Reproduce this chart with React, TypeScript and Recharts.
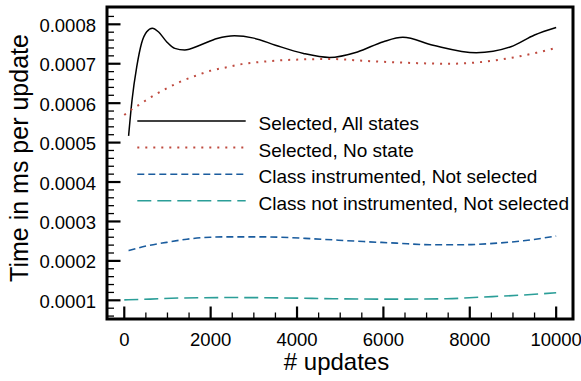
import React from 'react';
import { LineChart, Line, XAxis, YAxis, ReferenceArea, Legend } from 'recharts';

const FONT = '"Liberation Sans", Arial, Helvetica, sans-serif';

// ---- series metadata ----
const seriesNames = [
  'Selected, All states',
  'Selected, No state',
  'Class instrumented, Not selected',
  'Class not instrumented, Not selected',
];
const seriesColors = ['#000000', '#bf4a3f', '#1a5c9e', '#2b9e98'];
const seriesDash = ['', '2 6', '7 4', '14 6'];
const seriesWidth = [1.5, 2, 1.6, 1.6];

// ---- data (x = # updates, y = ms per update) ----
const allStatesX = [100, 180, 290, 400, 520, 650, 790, 980, 1170, 1400, 1750, 2150, 2550, 3000, 3500, 4150, 4750, 5400, 6000, 6450, 7150, 8150, 8950, 9500, 10000];
const allStatesY = [0.000517, 0.000608, 0.000693, 0.000752, 0.000781, 0.00079, 0.000781, 0.000756, 0.000739, 0.000735, 0.000747, 0.000764, 0.000771, 0.000765, 0.000747, 0.000726, 0.000716, 0.00073, 0.000756, 0.000767, 0.000747, 0.000728, 0.000743, 0.000773, 0.000792];

const noStateX = [0, 170, 330, 630, 940, 1290, 1640, 1990, 2370, 2720, 3100, 3680, 4770, 5610, 6390, 7550, 8320, 9010, 9550, 10000];
const noStateY = [0.00057, 0.000584, 0.000595, 0.000616, 0.000635, 0.000654, 0.000669, 0.000682, 0.000691, 0.000699, 0.000704, 0.000709, 0.000712, 0.000707, 0.000703, 0.0007, 0.000705, 0.000716, 0.000728, 0.00074];

const instrX = [100, 520, 980, 1450, 1990, 2520, 2990, 3610, 4380, 5540, 6310, 7080, 7850, 8630, 9240, 10000];
const instrY = [0.000226, 0.000238, 0.000247, 0.000255, 0.00026, 0.000261, 0.000261, 0.00026, 0.000256, 0.000249, 0.000245, 0.000241, 0.000241, 0.000245, 0.000251, 0.000263];

const notInstrX = [0, 600, 1370, 2520, 3680, 4840, 6310, 7470, 8240, 9170, 10000];
const notInstrY = [0.000101, 0.000103, 0.000106, 0.000107, 0.000106, 0.000104, 0.000103, 0.000104, 0.000108, 0.000113, 0.000119];

// ---- axes ----
const xDomain: [number, number] = [-400, 10390];
const yDomain: [number, number] = [0.0000526, 0.0008439];
const xTicks = [0, 500, 1000, 1500, 2000, 2500, 3000, 3500, 4000, 4500, 5000, 5500, 6000, 6500, 7000, 7500, 8000, 8500, 9000, 9500, 10000];
const xMajorTicks = [0, 2000, 4000, 6000, 8000, 10000];
const yTicks = [
  0.00006, 0.00008, 0.0001, 0.00012, 0.00014, 0.00016, 0.00018, 0.0002, 0.00022, 0.00024,
  0.00026, 0.00028, 0.0003, 0.00032, 0.00034, 0.00036, 0.00038, 0.0004, 0.00042, 0.00044,
  0.00046, 0.00048, 0.0005, 0.00052, 0.00054, 0.00056, 0.00058, 0.0006, 0.00062, 0.00064,
  0.00066, 0.00068, 0.0007, 0.00072, 0.00074, 0.00076, 0.00078, 0.0008, 0.00082,
];
const yMajorTicks = [0.0001, 0.0002, 0.0003, 0.0004, 0.0005, 0.0006, 0.0007, 0.0008];
const yTickLabels = ['0.0001', '0.0002', '0.0003', '0.0004', '0.0005', '0.0006', '0.0007', '0.0008'];

const toPoints = (xs: number[], ys: number[]) => xs.map((x, i) => ({ x, y: ys[i] }));
const seriesData = [
  toPoints(allStatesX, allStatesY),
  toPoints(noStateX, noStateY),
  toPoints(instrX, instrY),
  toPoints(notInstrX, notInstrY),
];

const XTick = (props: any) => {
  const { x, y, payload } = props;
  const v = payload.value;
  const major = xMajorTicks.indexOf(v) >= 0;
  return (
    <g>
      <line x1={x} x2={x} y1={y} y2={y - (major ? 12.5 : 6.5)} stroke="#000" strokeWidth={major ? 2.2 : 1.3} />
      {major && (
        <text x={x} y={y + 26.7} textAnchor="middle" fontFamily={FONT} fontSize={18.5} fill="#000">
          {String(v)}
        </text>
      )}
    </g>
  );
};

const YTick = (props: any) => {
  const { x, y, payload } = props;
  const v = payload.value;
  const idx = yMajorTicks.findIndex((m) => Math.abs(m - v) < 1e-9);
  const major = idx >= 0;
  return (
    <g>
      <line x1={x} x2={x + (major ? 13.5 : 7)} y1={y} y2={y} stroke="#000" strokeWidth={major ? 2.2 : 1.3} />
      {major && (
        <text x={x - 11} y={y + 7.5} textAnchor="end" fontFamily={FONT} fontSize={18.5} fill="#000">
          {yTickLabels[idx]}
        </text>
      )}
    </g>
  );
};

const legendRowY = [121, 147.6, 174.2, 200.8];

const LegendBox = () => (
  <svg width={581} height={381} style={{ position: 'absolute', left: 0, top: 0, overflow: 'visible' }}>
    {seriesNames.map((name, i) => (
      <g key={name}>
        <line
          x1={137.3}
          x2={245.7}
          y1={legendRowY[i]}
          y2={legendRowY[i]}
          stroke={seriesColors[i]}
          strokeWidth={seriesWidth[i]}
          strokeDasharray={seriesDash[i] || undefined}
        />
        <text x={258.5} y={legendRowY[i] + 9} fontFamily={FONT} fontSize={19} fill="#000">
          {name}
        </text>
      </g>
    ))}
  </svg>
);

const renderXTitle = (p: any) => {
  const vb = p && p.viewBox ? p.viewBox : { x: 107, y: 319, width: 466, height: 62 };
  return (
    <text x={vb.x + vb.width / 2 - 3.5} y={370} textAnchor="middle" fontFamily={FONT} fontSize={24} fill="#000">
      # updates
    </text>
  );
};

const renderYTitle = (p: any) => {
  const vb = p && p.viewBox ? p.viewBox : { x: 0, y: 7, width: 107, height: 312 };
  const cx = vb.x + 28;
  const cy = vb.y + vb.height / 2 - 5;
  return (
    <text x={cx} y={cy} transform={`rotate(-90 ${cx} ${cy})`} textAnchor="middle" fontFamily={FONT} fontSize={25} fill="#000">
      Time in ms per update
    </text>
  );
};

export default function App() {
  return (
    <div style={{ position: 'absolute', left: 0, top: 0, width: 581, height: 381, background: '#fff' }}>
      <LineChart width={581} height={381} margin={{ top: 7, right: 8, bottom: 0, left: 0 }}>
        <XAxis
          dataKey="x"
          type="number"
          domain={xDomain}
          allowDataOverflow
          ticks={xTicks}
          interval={0}
          tick={<XTick />}
          tickLine={false}
          tickSize={0}
          tickMargin={0}
          axisLine={false}
          height={62}
          label={{ content: renderXTitle }}
        />
        <YAxis
          type="number"
          domain={yDomain}
          allowDataOverflow
          ticks={yTicks}
          interval={0}
          tick={<YTick />}
          tickLine={false}
          tickSize={0}
          tickMargin={0}
          axisLine={false}
          width={107}
          label={{ content: renderYTitle }}
        />
        {seriesNames.map((name, i) => (
          <Line
            key={name}
            name={name}
            data={seriesData[i]}
            dataKey="y"
            type="monotone"
            stroke={seriesColors[i]}
            strokeWidth={seriesWidth[i]}
            strokeDasharray={seriesDash[i] || undefined}
            dot={false}
            activeDot={false}
            isAnimationActive={false}
          />
        ))}
        <ReferenceArea
          x1={xDomain[0]}
          x2={xDomain[1]}
          y1={yDomain[0]}
          y2={yDomain[1]}
          fill="none"
          fillOpacity={0}
          stroke="#000"
          strokeWidth={3}
        />
        <Legend
          layout="horizontal"
          verticalAlign="middle"
          align="center"
          wrapperStyle={{ position: 'absolute', left: 0, top: 0, width: 581, height: 381, pointerEvents: 'none' }}
          content={() => <LegendBox />}
        />
      </LineChart>
    </div>
  );
}
